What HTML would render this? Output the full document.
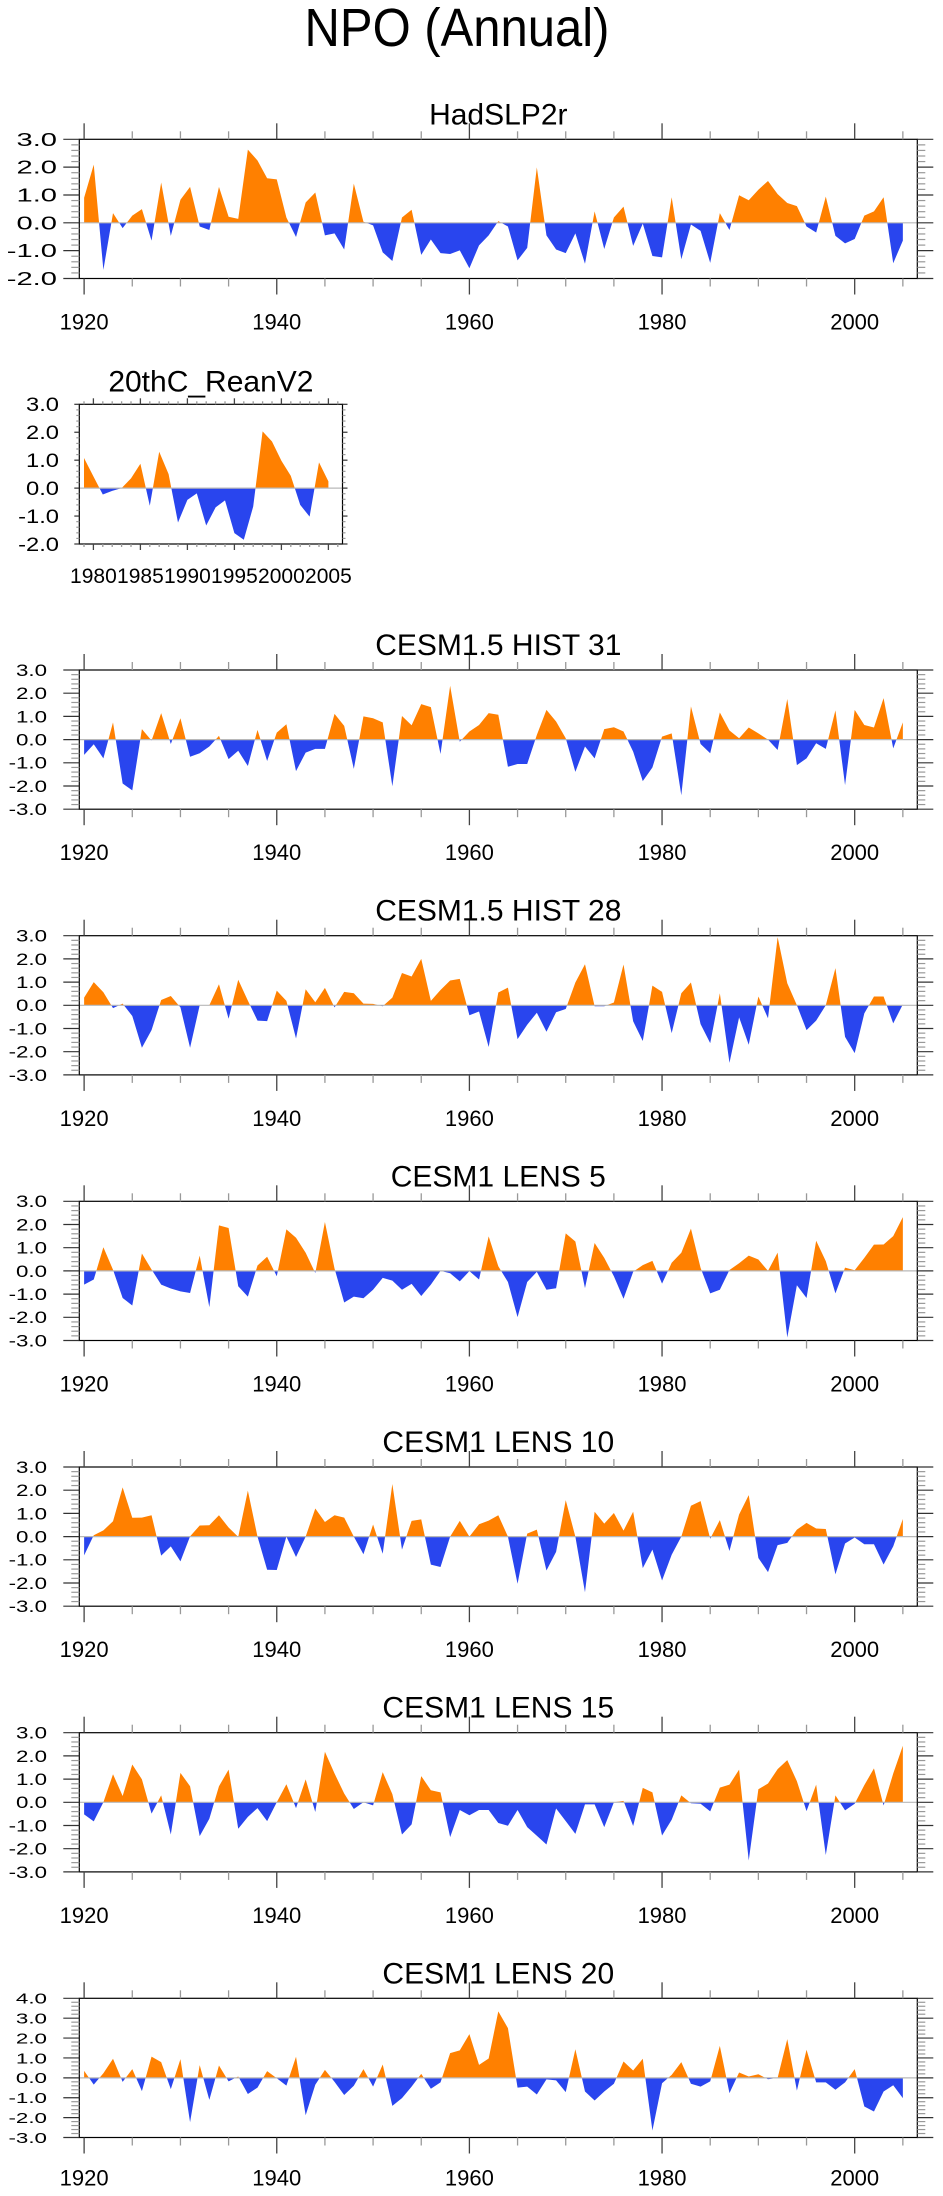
<!DOCTYPE html>
<html><head><meta charset="utf-8"><title>NPO (Annual)</title>
<style>
html,body{margin:0;padding:0;background:#fff;}
svg{display:block;}
text{font-family:"Liberation Sans",Arial,sans-serif;fill:#000;}
</style></head>
<body>
<svg id="chart" width="943" height="2196" viewBox="0 0 943 2196" xmlns="http://www.w3.org/2000/svg">
<text x="0" y="0" font-size="49" text-anchor="middle" transform="translate(457,46) scale(1,1.1)">NPO (Annual)</text>
</svg>
<script>
// ---- data (annual values) ----
const startYearLong = 1920;
const startYearRean = 1979;
const hadslp2r = [0.9,2.09,-1.69,0.35,-0.19,0.26,0.49,-0.64,1.45,-0.47,0.83,1.29,-0.13,-0.26,1.29,0.22,0.14,2.63,2.24,1.6,1.56,0.19,-0.51,0.73,1.09,-0.45,-0.38,-0.96,1.41,0.04,-0.09,-1.06,-1.37,0.19,0.47,-1.15,-0.6,-1.09,-1.12,-0.99,-1.63,-0.81,-0.45,0.06,-0.13,-1.35,-0.9,1.99,-0.45,-0.96,-1.09,-0.38,-1.47,0.41,-0.94,0.19,0.58,-0.83,-0.03,-1.19,-1.24,0.92,-1.31,-0.06,-0.29,-1.44,0.35,-0.26,0.99,0.81,1.19,1.5,1.03,0.71,0.6,-0.13,-0.35,0.94,-0.47,-0.74,-0.58,0.26,0.41,0.92,-1.45,-0.64];
const rean20c = [1.08,0.42,-0.23,-0.1,0.0,0.35,0.87,-0.63,1.3,0.5,-1.23,-0.42,-0.19,-1.34,-0.69,-0.44,-1.61,-1.85,-0.66,2.03,1.67,0.98,0.44,-0.6,-1.02,0.92,0.24];
const hist31 = [-0.66,-0.2,-0.81,0.74,-1.89,-2.19,0.45,-0.04,1.14,-0.19,0.92,-0.74,-0.59,-0.3,0.16,-0.84,-0.48,-1.14,0.42,-0.92,0.3,0.66,-1.36,-0.56,-0.4,-0.4,1.11,0.59,-1.26,1.0,0.92,0.74,-2.01,1.02,0.62,1.53,1.4,-0.62,2.32,-0.09,0.35,0.63,1.14,1.07,-1.17,-1.05,-1.05,0.2,1.28,0.78,0.06,-1.39,-0.3,-0.81,0.45,0.53,0.35,-0.52,-1.79,-1.2,0.13,0.27,-2.4,1.43,-0.19,-0.59,1.17,0.39,0.06,0.52,0.27,0.0,-0.45,1.75,-1.1,-0.81,-0.16,-0.4,1.26,-1.96,1.28,0.63,0.52,1.79,-0.38,0.74];
const hist28 = [0.33,1.0,0.56,-0.12,0.07,-0.46,-1.83,-1.07,0.23,0.4,-0.09,-1.83,0.0,0.0,0.91,-0.58,1.1,0.2,-0.66,-0.68,0.63,0.19,-1.43,0.69,0.13,0.75,-0.09,0.58,0.52,0.07,0.06,-0.04,0.33,1.39,1.24,2.0,0.19,0.66,1.07,1.14,-0.43,-0.27,-1.8,0.55,0.76,-1.46,-0.84,-0.32,-1.14,-0.3,-0.16,0.98,1.77,-0.04,-0.04,0.12,1.76,-0.69,-1.54,0.85,0.58,-1.2,0.52,0.98,-0.81,-1.63,0.52,-2.48,-0.52,-1.7,0.38,-0.56,2.94,0.95,0.0,-1.07,-0.66,0.0,1.6,-1.36,-2.06,-0.35,0.38,0.38,-0.78,0.04];
const lens5 = [-0.59,-0.37,1.02,0.05,-1.17,-1.49,0.75,0.06,-0.59,-0.76,-0.88,-0.95,0.66,-1.56,1.96,1.85,-0.66,-1.11,0.23,0.61,-0.23,1.79,1.43,0.78,-0.09,2.11,0.1,-1.36,-1.11,-1.18,-0.81,-0.3,-0.42,-0.81,-0.56,-1.08,-0.59,0.0,-0.1,-0.45,-0.01,-0.37,1.49,0.2,-0.48,-1.99,-0.48,-0.04,-0.81,-0.75,1.62,1.27,-0.74,1.2,0.56,-0.23,-1.2,-0.04,0.25,0.43,-0.55,0.35,0.78,1.82,0.13,-0.97,-0.81,0.04,0.33,0.66,0.49,0.0,0.79,-2.87,-0.62,-1.17,1.3,0.42,-0.97,0.14,0.03,0.56,1.13,1.14,1.5,2.32];
const lens10 = [-0.81,0.06,0.27,0.66,2.12,0.81,0.82,0.92,-0.82,-0.42,-1.07,0.01,0.48,0.49,0.92,0.39,-0.01,1.98,0.0,-1.43,-1.44,0.0,-0.88,0.0,1.21,0.63,0.92,0.82,0.0,-0.76,0.52,-0.74,2.27,-0.56,0.68,0.74,-1.21,-1.31,0.0,0.68,0.0,0.53,0.69,0.92,0.0,-2.03,0.13,0.3,-1.46,-0.66,1.57,0.0,-2.4,1.07,0.56,1.02,0.26,1.07,-1.36,-0.56,-1.89,-0.78,0.0,1.33,1.53,-0.09,0.71,-0.62,0.95,1.79,-0.92,-1.53,-0.37,-0.27,0.3,0.59,0.35,0.33,-1.63,-0.3,-0.04,-0.33,-0.33,-1.2,-0.42,0.76];
const lens15 = [-0.52,-0.82,0.0,1.21,0.27,1.63,0.99,-0.49,0.3,-1.39,1.27,0.69,-1.46,-0.71,0.69,1.41,-1.14,-0.63,-0.25,-0.81,0.0,0.78,-0.25,0.99,-0.42,2.18,1.24,0.38,-0.29,0.0,-0.13,1.3,0.35,-1.39,-0.95,1.13,0.52,0.43,-1.5,-0.33,-0.56,-0.33,-0.33,-0.89,-1.01,-0.33,-1.07,-1.44,-1.82,-0.27,-0.81,-1.36,-0.09,-0.09,-1.07,0.0,0.06,-1.02,0.62,0.43,-1.43,-0.75,0.3,-0.04,-0.06,-0.39,0.63,0.76,1.41,-2.51,0.56,0.81,1.43,1.82,0.91,-0.38,0.76,-2.27,0.3,-0.35,-0.06,0.74,1.46,-0.14,1.24,2.44];
const lens20 = [0.35,-0.34,0.23,0.96,-0.2,0.44,-0.67,1.07,0.79,-0.57,0.94,-2.23,0.64,-1.11,0.62,-0.18,0.07,-0.81,-0.49,0.34,-0.02,-0.39,1.06,-1.88,-0.35,0.4,-0.2,-0.86,-0.4,0.44,-0.44,0.67,-1.41,-1.02,-0.44,0.2,-0.55,-0.23,1.24,1.38,2.2,0.65,0.97,3.34,2.5,-0.49,-0.44,-0.84,-0.08,-0.13,-0.72,1.44,-0.69,-1.14,-0.69,-0.3,0.82,0.37,0.96,-2.65,-0.27,0.15,0.79,-0.3,-0.44,-0.18,1.61,-0.77,0.27,0.07,0.18,-0.07,0.0,1.95,-0.64,1.41,-0.23,-0.23,-0.6,-0.23,0.44,-1.44,-1.69,-0.69,-0.37,-1.02];
const panelTitles = ["HadSLP2r","20thC_ReanV2","CESM1.5 HIST 31","CESM1.5 HIST 28","CESM1 LENS 5","CESM1 LENS 10","CESM1 LENS 15","CESM1 LENS 20"];
const xTickLabelsLong = ["1920","1940","1960","1980","2000"];
const xTickLabelsRean = ["1980","1985","1990","1995","2000","2005"];

const NS = "http://www.w3.org/2000/svg";
const svg = document.getElementById('chart');
function mk(tag, attrs, parent) {
  const el = document.createElementNS(NS, tag);
  for (const k in attrs) el.setAttribute(k, attrs[k]);
  (parent || svg).appendChild(el);
  return el;
}
const ORANGE = "#ff8000", BLUE = "#2945ee";

function charW(s){let w=0;for(const c of s){w+= c==='.'?0.278:(c==='-'?0.333:0.556);}return w;}

function drawPanel(p, vals, startYear, title, idx) {
  const g = mk('g', {});
  
  
  const bottom = p.top + p.h;
  const xs = v => p.left + (v - p.xmin) / (p.xmax - p.xmin) * (p.right - p.left);
  const ys = v => p.top + (p.ymax - v) / (p.ymax - p.ymin) * p.h;
  const y0 = ys(0);
  const defs = mk('defs', {}, g);
  const ca = mk('clipPath', {id: 'ca' + idx}, defs);
  mk('rect', {x: p.left, y: p.top, width: p.right - p.left, height: y0 - p.top}, ca);
  const cb = mk('clipPath', {id: 'cb' + idx}, defs);
  mk('rect', {x: p.left, y: y0, width: p.right - p.left, height: bottom - y0}, cb);
  let pts = xs(startYear).toFixed(2) + ',' + y0.toFixed(2);
  vals.forEach((v, i) => { pts += ' ' + xs(startYear + i).toFixed(2) + ',' + ys(v).toFixed(2); });
  pts += ' ' + xs(startYear + vals.length - 1).toFixed(2) + ',' + y0.toFixed(2);
  const pa = mk('polygon', {points: pts, fill: ORANGE, 'clip-path': 'url(#ca' + idx + ')'}, g);
  
  
  const pb = mk('polygon', {points: pts, fill: BLUE, 'clip-path': 'url(#cb' + idx + ')'}, g);
  
  
  const zl = mk('line', {x1: p.left, x2: p.right, y1: y0, y2: y0, stroke: '#b8b8b8', 'stroke-width': 1.2}, g);
  
  
  const fr = mk('rect', {x: p.left, y: p.top, width: p.right - p.left, height: p.h, fill: 'none', stroke: '#000', 'stroke-width': 1.2}, g);
  
  
  const nMinor = Math.round((p.ymax - p.ymin) / 0.2);
  for (let k = 0; k <= nMinor; k++) {
    const v = p.ymin + k * 0.2;
    const major = k % 5 === 0;
    const len = major ? p.yMaj : p.yMin;
    const y = ys(v);
    const col = major ? '#333' : '#999';
    mk('line', {x1: p.left - len, x2: p.left, y1: y, y2: y, stroke: col, 'stroke-width': 1.2}, g);
    mk('line', {x1: p.right, x2: p.right + len, y1: y, y2: y, stroke: col, 'stroke-width': 1.2}, g);
    if (major) {
      const s = v.toFixed(1);
      const t = mk('text', {x: p.labRight, y: (y + 0.36 * p.labFont).toFixed(2), 'font-size': p.labFont, 'text-anchor': 'end',
        textLength: (charW(s) * p.labFont * p.labStretch).toFixed(1), lengthAdjust: 'spacingAndGlyphs'}, g);
      t.textContent = s;
      
      
    }
  }
  for (let yr = Math.ceil(p.xmin); yr <= p.xmax; yr += p.xMinorStep) {
    const major = yr % p.xMajorStep === 0;
    if (!major && yr % p.xMinorStep !== 0) continue;
    const len = major ? p.xMaj : p.xMin;
    const x = xs(yr);
    const col = major ? '#444' : '#999';
    mk('line', {x1: x, x2: x, y1: p.top - len, y2: p.top, stroke: col, 'stroke-width': 1.3}, g);
    mk('line', {x1: x, x2: x, y1: bottom, y2: bottom + len, stroke: col, 'stroke-width': 1.3}, g);
  }
  p.xLabels.forEach(lbl => {
    const t = mk('text', {x: xs(+lbl), y: bottom + p.xLabOff, 'font-size': p.xLabFont, 'text-anchor': 'middle'}, g);
    t.textContent = lbl;
    
    
  });
  const tt = mk('text', {x: (p.left + p.right) / 2, y: p.top - p.titleOff, 'font-size': 30, 'text-anchor': 'middle'}, g);
  tt.textContent = title;
  
  
}

function bigPanel(top, ymin, ymax, labRight, labFont, labStretch) {
  return {left: 79.3, right: 917.3, top: top, h: 139.2, xmin: 1919.5, xmax: 2006.5, ymin: ymin, ymax: ymax,
    yMaj: 16, yMin: 8, xMaj: 16, xMin: 8, xMajorStep: 20, xMinorStep: 5, xLabels: xTickLabelsLong,
    xLabFont: 22, xLabOff: 51, labRight: labRight, labFont: labFont, labStretch: labStretch, titleOff: 15};
}
const series = [hadslp2r, rean20c, hist31, hist28, lens5, lens10, lens15, lens20];
const panels = [
  bigPanel(139.3, -2, 3, 57, 18, 1.62),
  {left: 79.3, right: 342.5, top: 404.3, h: 139.7, xmin: 1978.5, xmax: 2006.5, ymin: -2, ymax: 3,
    yMaj: 5, yMin: 3, xMaj: 6, xMin: 3, xMajorStep: 5, xMinorStep: 1, xLabels: xTickLabelsRean,
    xLabFont: 21, xLabOff: 39, labRight: 59, labFont: 19, labStretch: 1.25, titleOff: 12.6},
  bigPanel(670.0, -3, 3, 47, 16.5, 1.35),
  bigPanel(935.7, -3, 3, 47, 16.5, 1.35),
  bigPanel(1201.3, -3, 3, 47, 16.5, 1.35),
  bigPanel(1467.0, -3, 3, 47, 16.5, 1.35),
  bigPanel(1732.7, -3, 3, 47, 16.5, 1.35),
  bigPanel(1998.3, -3, 4, 47, 15, 1.49)
];
panels[7].xLabOff = 48;
panels.forEach((p, i) => drawPanel(p, series[i], i === 1 ? startYearRean : startYearLong, panelTitles[i], i));
</script>
</body></html>
